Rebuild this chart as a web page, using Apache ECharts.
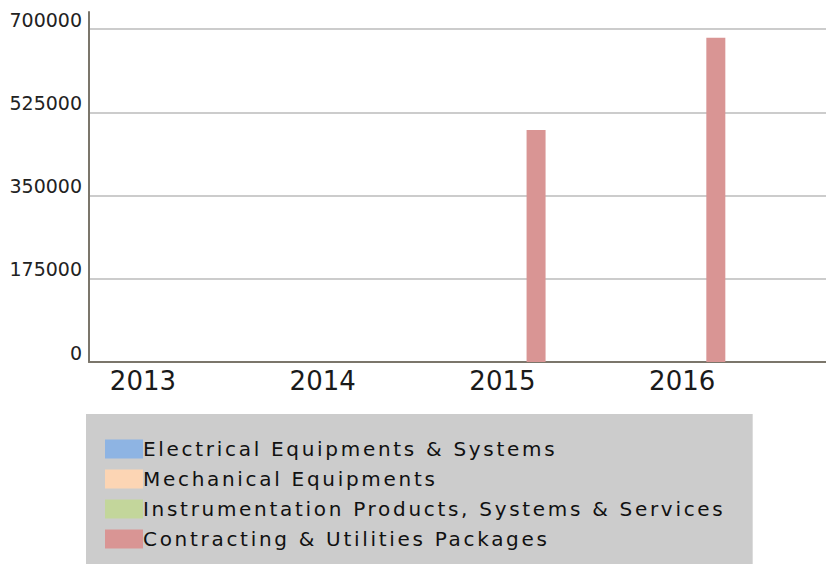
<!DOCTYPE html>
<html>
<head>
<meta charset="utf-8">
<script src="https://cdn.jsdelivr.net/npm/echarts@6/dist/echarts.min.js"></script>
<style>
  html, body { margin: 0; padding: 0; background: #ffffff; }
  #chart { width: 826px; height: 564px; }
</style>
</head>
<body>
<div id="chart"></div>
<script>
// ---- data ----
const years = [2013, 2014, 2015, 2016];
const seriesNames = [
  'Electrical Equipments & Systems',
  'Mechanical Equipments',
  'Instrumentation Products, Systems & Services',
  'Contracting & Utilities Packages'
];
const electrical = [0, 0, 0, 0];
const mechanical = [0, 0, 0, 0];
const instrumentation = [0, 0, 0, 0];
const contracting = [0, 0, 488000, 682000];
const yTicks = [0, 175000, 350000, 525000, 700000];

// ---- styles ----
const seriesColors = ['#8eb4e3', '#fcd5b4', '#c3d69b', '#d99594'];
const FONT = 'DejaVu Sans';
const axisColor = '#7b766b';

const values = [electrical, mechanical, instrumentation, contracting];

const chart = echarts.init(document.getElementById('chart'), null, { renderer: 'svg' });

const option = {
  animation: false,
  backgroundColor: '#ffffff',
  grid: { left: 89, right: 0, top: 12, bottom: 202, containLabel: false },
  xAxis: {
    type: 'value',
    min: 2012.7,
    max: 2016.8,
    interval: 0.1,
    axisLine: { show: true, lineStyle: { color: axisColor, width: 2 } },
    axisTick: { show: false },
    splitLine: { show: false },
    axisLabel: {
      fontFamily: FONT,
      fontSize: 26,
      color: '#1a1a1a',
      margin: 6,
      showMinLabel: false,
      showMaxLabel: false,
      formatter: function (v) {
        const r = Math.round(v);
        return (Math.abs(v - r) < 1e-6 && years.indexOf(r) >= 0) ? String(r) : '';
      }
    }
  },
  yAxis: {
    type: 'value',
    min: 0,
    max: 736000,
    interval: 175000,
    axisLine: { show: true, lineStyle: { color: axisColor, width: 2 } },
    axisTick: { show: false },
    splitLine: {
      show: true,
      lineStyle: {
        color: yTicks.map(function () { return '#cccccc'; }).concat(['rgba(0,0,0,0)']),
        width: 2
      }
    },
    axisLabel: {
      fontFamily: FONT,
      fontSize: 19,
      color: '#222222',
      margin: 7,
      verticalAlign: 'bottom',
      formatter: function (v) {
        return yTicks.indexOf(v) >= 0 ? String(v) : '';
      }
    }
  },
  legend: {
    orient: 'vertical',
    left: 86,
    top: 414,
    padding: [25, 146, 15, 19],
    backgroundColor: '#cccccc',
    itemWidth: 38,
    itemHeight: 19,
    itemGap: 10,
    icon: 'rect',
    textStyle: { fontFamily: FONT, fontSize: 20, color: '#111111', padding: [0, 0, 0, -5] },
    data: seriesNames
  },
  series: seriesNames.map(function (name, i) {
    return {
      name: name,
      type: 'bar',
      barWidth: 19,
      barGap: '18%',
      itemStyle: { color: seriesColors[i] },
      data: years.map(function (y, j) { return [y, values[i][j]]; })
    };
  })
};

chart.setOption(option);

function spaceLegend() {
  document.querySelectorAll('#chart svg text').forEach(function (t) {
    if (seriesNames.indexOf(t.textContent) >= 0) {
      t.setAttribute('letter-spacing', '2.7');
    }
  });
}
spaceLegend();
chart.on('finished', spaceLegend);
setTimeout(spaceLegend, 50);
</script>
</body>
</html>
